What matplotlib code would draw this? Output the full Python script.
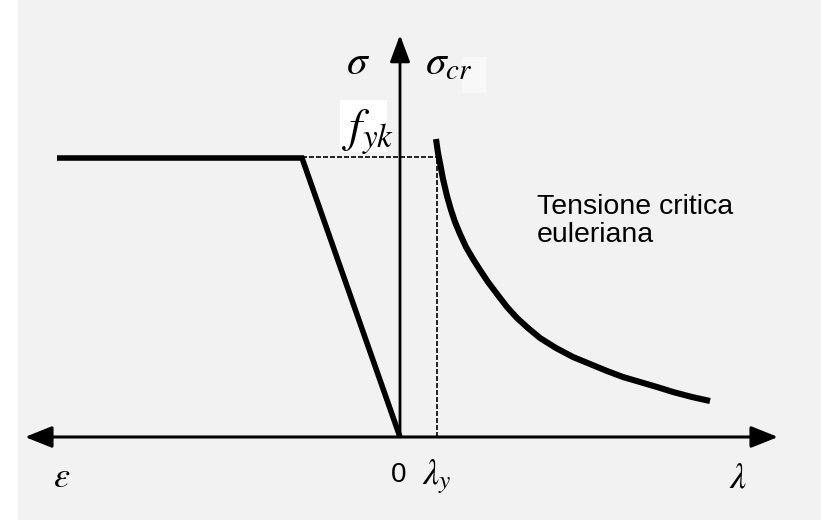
import matplotlib
matplotlib.use("Agg")
import matplotlib.pyplot as plt
from matplotlib.patches import Rectangle

plt.rcParams["mathtext.fontset"] = "stix"

# ---- diagram data (arbitrary units, origin at sigma = 0, eps/lambda = 0) ----
# constitutive branch (left side: strain epsilon, plotted towards negative x)
eps_branch_x = [-3.43, -0.98, 0.0]
eps_branch_y = [2.79, 2.79, 0.0]

f_yk = 2.80          # yield stress level
lambda_y = 0.37      # slenderness where Euler stress equals f_yk

# Euler critical stress curve (right side: slenderness lambda)
euler_lambda = [0.36, 0.38, 0.40, 0.43, 0.47, 0.51, 0.55, 0.60, 0.66, 0.73,
                0.80, 0.88, 0.97, 1.07, 1.17, 1.28, 1.40, 1.56, 1.73, 1.90,
                2.07, 2.23, 2.40, 2.57, 2.73, 2.92, 3.10]
euler_sigma = [2.98, 2.84, 2.74, 2.58, 2.41, 2.27, 2.15, 2.03, 1.90, 1.78,
               1.67, 1.55, 1.43, 1.30, 1.19, 1.09, 0.99, 0.89, 0.80, 0.73,
               0.66, 0.60, 0.55, 0.50, 0.45, 0.40, 0.36]

# axis extents
x_axis_left, x_axis_right = -3.75, 3.78
y_axis_top = 4.02

fig = plt.figure(figsize=(8.21, 5.20), dpi=100)
fig.patch.set_facecolor("#f2f2f2")
ax = fig.add_axes([0, 0, 1, 1])
ax.set_xlim(-4.00, 4.21)
ax.set_ylim(-0.83, 4.37)
ax.axis("off")

# white margin on the left of the page
ax.add_patch(Rectangle((-4.00, -0.83), 0.18, 5.2, facecolor="white",
                       edgecolor="none", zorder=0))

# axes with arrowheads
ax.annotate("", xy=(x_axis_right, 0), xytext=(x_axis_left, 0),
            arrowprops=dict(arrowstyle="<|-|>,head_length=0.75,head_width=0.3",
                            lw=2.2, color="black", mutation_scale=22,
                            shrinkA=0, shrinkB=0), zorder=3)
ax.annotate("", xy=(0, y_axis_top), xytext=(0, 0),
            arrowprops=dict(arrowstyle="-|>,head_length=0.75,head_width=0.28",
                            lw=2.0, color="black", mutation_scale=22,
                            shrinkA=0, shrinkB=0), zorder=3)

# yield plateau and elastic branch
ax.plot(eps_branch_x, eps_branch_y, color="black", lw=4.0,
        solid_joinstyle="miter", solid_capstyle="butt", zorder=4)

# reference dashed lines at f_yk and lambda_y
ax.plot([eps_branch_x[1], lambda_y], [f_yk, f_yk], color="black", lw=1.2,
        ls=(0, (3, 1.2)), zorder=2)
ax.plot([lambda_y, lambda_y], [0, f_yk], color="black", lw=1.2,
        ls=(0, (3, 1.2)), zorder=2)

# Euler hyperbola
ax.plot(euler_lambda, euler_sigma, color="black", lw=4.4,
        solid_capstyle="butt", solid_joinstyle="round", zorder=4)

# labels
ax.text(-0.42, 3.75, r"$\sigma$", fontsize=30, ha="center", va="center", zorder=5)
ax.text(0.25, 3.75, r"$\sigma_{cr}$", fontsize=30, ha="left", va="center", zorder=5)
ax.add_patch(Rectangle((0.62, 3.44), 0.24, 0.36, facecolor="#f8f8f8",
                       edgecolor="none", zorder=1))

ax.add_patch(Rectangle((-0.60, 2.85), 0.47, 0.52, facecolor="white",
                       edgecolor="none", zorder=1))
ax.text(-0.58, 3.05, r"$f_{yk}$", fontsize=34, ha="left", va="center", zorder=5)

ax.text(1.37, 2.16, "Tensione critica\neuleriana", fontsize=20.5,
        family="Liberation Sans", ha="left", va="center", linespacing=1.12,
        zorder=5)

ax.text(-3.38, -0.40, r"$\varepsilon$", fontsize=26, ha="center", va="center", zorder=5)
ax.text(-0.01, -0.38, "0", fontsize=20, family="Liberation Sans",
        ha="center", va="center", zorder=5)
ax.text(0.37, -0.40, r"$\lambda_y$", fontsize=26, ha="center", va="center", zorder=5)
ax.text(3.38, -0.40, r"$\lambda$", fontsize=26, ha="center", va="center", zorder=5)

fig.savefig("out.png", dpi=100, facecolor=fig.get_facecolor())
